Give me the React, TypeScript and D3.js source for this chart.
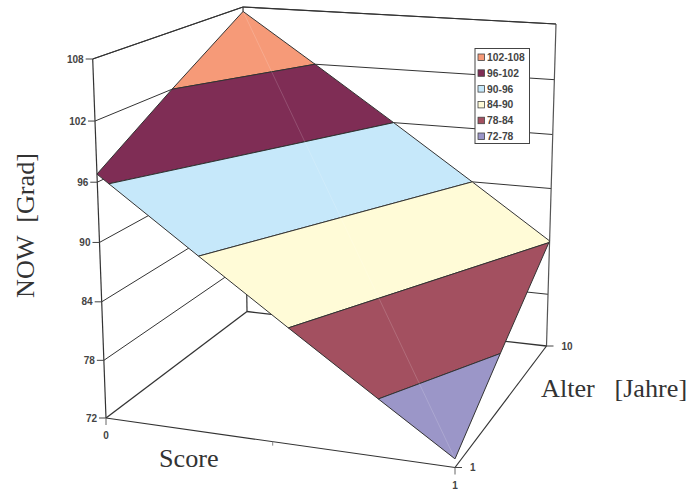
import React from "react";
import * as d3 from "d3";

const scoreDomain = [0, 1];
const scoreMinorTick = 0.485;
const alterDomain = [1, 10];
const nowDomain = [72, 108];
const nowTicks = [72, 78, 84, 90, 96, 102, 108];
// surface values: [score, alter, NOW]
const surfaceCorners: [number, number, number][] = [
  [0, 1, 96.8],
  [0, 10, 107.5],
  [1, 10, 84.1],
  [1, 1, 72.9],
];
const bandNames = ["102-108", "96-102", "90-96", "84-90", "78-84", "72-78"];
const bandLows = [102, 96, 90, 84, 78, 72];
const bandColors = ["#F69A78", "#7F2D55", "#C6E8FA", "#FFFBD7", "#A35060", "#9B96C8"];

// Projection: screen position of the eight cube corners
type P = [number, number];
const FL0: P = [106, 418], FR0: P = [455, 467.5], BR0: P = [546.5, 346], BL0: P = [247, 311.5];
const FL1: P = [92.7, 59], FR1: P = [455, 108], BR1: P = [556, 24], BL1: P = [243, 7];

const sx = d3.scaleLinear().domain(scoreDomain).range([0, 1]);
const sy = d3.scaleLinear().domain(alterDomain).range([0, 1]);
const sz = d3.scaleLinear().domain(nowDomain).range([0, 1]);
const warp = (t: number, k: number) => t / (t + k * (1 - t));
const mix = (a: P, b: P, t: number): P => [a[0] + (b[0] - a[0]) * t, a[1] + (b[1] - a[1]) * t];

function project(score: number, alter: number, now: number): P {
  const u = warp(sx(score), 1.03);
  const v = warp(sy(alter), 0.88);
  const w = warp(sz(now), 1.045);
  const bottom = mix(mix(FL0, FR0, u), mix(BL0, BR0, u), v);
  const top = mix(mix(FL1, FR1, u), mix(BL1, BR1, u), v);
  return mix(bottom, top, w);
}

type V = [number, number, number];
function clip(poly: V[], level: number, keepAbove: boolean): V[] {
  const out: V[] = [];
  const inside = (p: V) => (keepAbove ? p[2] >= level : p[2] <= level);
  poly.forEach((a, i) => {
    const b = poly[(i + 1) % poly.length];
    if (inside(a)) out.push(a);
    if (inside(a) !== inside(b)) {
      const t = (level - a[2]) / (b[2] - a[2]);
      out.push([a[0] + (b[0] - a[0]) * t, a[1] + (b[1] - a[1]) * t, level]);
    }
  });
  return out;
}

const lineGen = d3.line<P>();
const closed = d3.line<P>().curve(d3.curveLinearClosed);
const INK = "#333";

function Seg({ a, b, w = 1, c = INK }: { a: P; b: P; w?: number; c?: string }) {
  return <path d={lineGen([a, b]) as string} stroke={c} strokeWidth={w} fill="none" />;
}

export default function App() {
  const [s0, s1] = scoreDomain;
  const [a0, a1] = alterDomain;
  const [z0, z1] = nowDomain;
  const minor = project(scoreMinorTick, a0, z0);
  return (
    <svg
      width={689}
      height={490}
      viewBox="0 0 689 490"
      style={{ position: "absolute", left: 0, top: 0, background: "#fff" }}
    >
      {nowTicks.slice(1).map((z) => (
        <g key={z}>
          <Seg a={project(s0, a0, z)} b={project(s0, a1, z)} />
          <Seg a={project(s0, a1, z)} b={project(s1, a1, z)} />
        </g>
      ))}
      <Seg a={project(s0, a1, z0)} b={project(s0, a1, z1)} w={1.2} />
      <Seg a={project(s1, a1, z0)} b={project(s1, a1, z1)} w={1.2} c="#555" />
      <Seg a={project(s0, a0, z0)} b={project(s0, a0, z1)} w={1.2} />
      <Seg a={project(s0, a0, z0)} b={project(s0, a1, z0)} w={1.3} />
      <Seg a={project(s0, a1, z0)} b={project(s1, a1, z0)} w={1.3} />
      <Seg a={project(s0, a0, z0)} b={project(s1, a0, z0)} w={1.2} />
      <Seg a={project(s1, a0, z0)} b={project(s1, a1, z0)} w={1.2} />
      <Seg a={project(s0, a0, z1)} b={project(s0, a1, z1)} w={1.2} />
      <Seg a={project(s0, a1, z1)} b={project(s1, a1, z1)} w={1.2} />

      {bandLows.map((low, i) => {
        const high = low + 6;
        const poly = clip(clip(surfaceCorners, low, true), high, false);
        return (
          <path
            key={low}
            d={closed(poly.map((p) => project(p[0], p[1], p[2]))) as string}
            fill={bandColors[i]}
            stroke={INK}
            strokeWidth={1}
            strokeLinejoin="round"
          />
        );
      })}
      <Seg
        a={project(surfaceCorners[1][0], surfaceCorners[1][1], surfaceCorners[1][2])}
        b={project(surfaceCorners[3][0], surfaceCorners[3][1], surfaceCorners[3][2])}
        w={0.5}
        c="#ffffff55"
      />

      {/* ticks and labels */}
      <g fontFamily="'Liberation Sans', Arial, sans-serif" fontWeight="bold" fontSize={10} fill="#444">
        {nowTicks.map((z) => {
          const p = project(s0, a0, z);
          return (
            <g key={z}>
              <Seg a={p} b={[p[0] - 7, p[1]]} c="#444" />
              <text x={p[0] - 9} y={p[1] + 3.5} textAnchor="end">{z}</text>
            </g>
          );
        })}
        {scoreDomain.map((s) => {
          const p = project(s, a0, z0);
          return (
            <g key={s}>
              <Seg a={p} b={[p[0], p[1] + 7]} c="#666" />
              <text x={p[0]} y={p[1] + 21} textAnchor="middle">{s}</text>
            </g>
          );
        })}
        <Seg a={minor} b={[minor[0], minor[1] + 4]} c="#888" />
        {alterDomain.map((a) => {
          const p = project(s1, a, z0);
          return (
            <g key={a}>
              <Seg a={p} b={[p[0] + 7, p[1]]} c="#444" />
              <text x={p[0] + 15} y={p[1] + 3.5} textAnchor="start">{a}</text>
            </g>
          );
        })}
      </g>

      {/* axis titles */}
      <g fontFamily="'Liberation Serif', 'Times New Roman', serif" fontSize={26.2} fill="#333">
        <text x={159} y={467}>Score</text>
        <text x={541} y={397} xmlSpace="preserve" style={{ whiteSpace: "pre" }}>Alter   [Jahre]</text>
        <text
          transform="translate(34,298) rotate(-90)"
          xmlSpace="preserve"
          style={{ whiteSpace: "pre" }}
        >NOW  [Grad]</text>
      </g>

      {/* legend */}
      <g fontFamily="'Liberation Sans', Arial, sans-serif" fontWeight="bold" fontSize={10.3} fill="#444">
        <rect x={475} y={48.5} width={54.5} height={95} fill="#fff" stroke="#444" strokeWidth={1} />
        {bandNames.map((name, i) => {
          const y = d3.scaleLinear().domain([0, 5]).range([57.5, 136.5])(i);
          return (
            <g key={name}>
              <rect x={478} y={y - 3.5} width={6.5} height={6.5} fill={bandColors[i]} stroke="#444" strokeWidth={0.8} />
              <text x={487} y={y + 3.5}>{name}</text>
            </g>
          );
        })}
      </g>
    </svg>
  );
}
